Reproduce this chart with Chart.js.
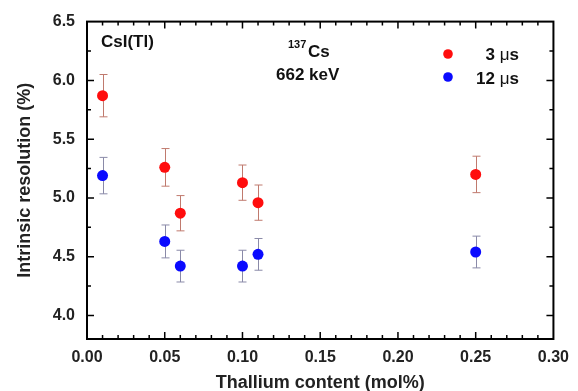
<!DOCTYPE html>
<html lang="en">
<head>
  <meta charset="UTF-8">
  <title>CsI(Tl) intrinsic resolution</title>
  <script src="https://cdn.jsdelivr.net/npm/chart.js"></script>
  <style>
    body { margin: 0; padding: 0; background: #fff; }
    #wrap { width: 578px; height: 391px; }
  </style>
</head>
<body>
  <div id="wrap"><canvas id="resChart" width="578" height="391"></canvas></div>

  <script>
    // Thallium content (mol%)
    const thallium = [0.01, 0.05, 0.06, 0.10, 0.11, 0.25];

    // Intrinsic resolution (%) at 3 us and 12 us shaping time, with errors
    const res3us = [5.87, 5.26, 4.87, 5.13, 4.96, 5.20];
    const err3us = [0.18, 0.16, 0.15, 0.15, 0.15, 0.155];
    const res12us = [5.19, 4.63, 4.42, 4.42, 4.52, 4.54];
    const err12us = [0.155, 0.14, 0.135, 0.135, 0.135, 0.135];

    const xTicks = [0.00, 0.05, 0.10, 0.15, 0.20, 0.25, 0.30];
    const yTicks = [4.0, 4.5, 5.0, 5.5, 6.0, 6.5];

    const FONT = "'Liberation Sans', Arial, sans-serif";

    const toPoints = (xs, ys, es) => xs.map((x, i) => ({ x: x, y: ys[i], err: es[i] }));

    // error bars with small caps
    const errorBars = {
      id: 'errorBars',
      beforeDatasetsDraw(chart) {
        const { ctx, scales: { x, y } } = chart;
        chart.data.datasets.forEach(ds => {
          ctx.save();
          ctx.strokeStyle = ds.errorColor;
          ctx.lineWidth = 1;
          ds.data.forEach(p => {
            const px = Math.round(x.getPixelForValue(p.x)) + 0.5;
            const top = y.getPixelForValue(p.y + p.err);
            const bot = y.getPixelForValue(p.y - p.err);
            ctx.beginPath();
            ctx.moveTo(px, top); ctx.lineTo(px, bot);
            ctx.moveTo(px - 4, top); ctx.lineTo(px + 4, top);
            ctx.moveTo(px - 4, bot); ctx.lineTo(px + 4, bot);
            ctx.stroke();
          });
          ctx.restore();
        });
      }
    };

    // box frame with inward ticks on all four sides
    const frame = {
      id: 'frame',
      afterDraw(chart) {
        const { ctx, chartArea: a, scales: { x, y } } = chart;
        ctx.save();
        ctx.strokeStyle = '#000';
        ctx.lineWidth = 1.5;
        ctx.beginPath();
        for (let v = 0.01; v < 0.3; v += 0.01) {
          const px = x.getPixelForValue(v);
          const major = Math.abs(v / 0.05 - Math.round(v / 0.05)) < 1e-6;
          const len = major ? 7 : 4;
          ctx.moveTo(px, a.bottom); ctx.lineTo(px, a.bottom - len);
          ctx.moveTo(px, a.top); ctx.lineTo(px, a.top + len);
        }
        for (let v = 4.0; v < 6.5; v += 0.25) {
          const py = y.getPixelForValue(v);
          const major = Math.abs(v / 0.5 - Math.round(v / 0.5)) < 1e-6;
          const len = major ? 7 : 4;
          ctx.moveTo(a.left, py); ctx.lineTo(a.left + len, py);
          ctx.moveTo(a.right, py); ctx.lineTo(a.right - len, py);
        }
        ctx.stroke();
        ctx.lineWidth = 2;
        ctx.strokeRect(a.left, a.top, a.right - a.left, a.bottom - a.top);
        ctx.restore();
      }
    };

    // "3 μs" style label: number and unit bold, the mu in plain weight
    function drawUnitLabel(ctx, num, right, baseline) {
      const parts = [
        [num + ' ', 'bold 17px ' + FONT],
        ['μ', '17px ' + FONT],
        ['s', 'bold 17px ' + FONT]
      ];
      let w = 0;
      parts.forEach(([t, f]) => { ctx.font = f; w += ctx.measureText(t).width; });
      let xPos = right - w;
      ctx.textAlign = 'left';
      parts.forEach(([t, f]) => {
        ctx.font = f;
        ctx.fillText(t, xPos, baseline);
        xPos += ctx.measureText(t).width;
      });
    }

    // in-plot labels and legend
    const notes = {
      id: 'notes',
      afterDraw(chart) {
        const { ctx } = chart;
        ctx.save();
        ctx.fillStyle = '#111';
        ctx.textBaseline = 'alphabetic';
        ctx.font = 'bold 17px ' + FONT;
        ctx.textAlign = 'left';
        ctx.fillText('CsI(Tl)', 101, 47);
        ctx.font = 'bold 11px ' + FONT;
        ctx.fillText('137', 288, 48);
        ctx.font = 'bold 17px ' + FONT;
        ctx.fillText('Cs', 308, 57);
        ctx.fillText('662 keV', 276, 80);

        const rows = [[54, 60], [77, 84]];
        chart.data.datasets.forEach((ds, i) => {
          const [cy, by] = rows[i];
          ctx.fillStyle = ds.backgroundColor;
          ctx.beginPath();
          ctx.arc(448, cy, 4.8, 0, Math.PI * 2);
          ctx.fill();
          ctx.fillStyle = '#111';
          drawUnitLabel(ctx, ds.shaping, 519, by);
        });
        ctx.restore();
      }
    };

    const ctx = document.getElementById('resChart').getContext('2d');
    new Chart(ctx, {
      type: 'scatter',
      data: {
        datasets: [
          {
            label: '3 μs',
            shaping: '3',
            data: toPoints(thallium, res3us, err3us),
            backgroundColor: '#ff0d0d',
            borderColor: '#ff0d0d',
            errorColor: '#c07a6e',
            pointRadius: 5.5,
            pointBorderWidth: 0
          },
          {
            label: '12 μs',
            shaping: '12',
            data: toPoints(thallium, res12us, err12us),
            backgroundColor: '#0a0aff',
            borderColor: '#0a0aff',
            errorColor: '#8a8aa8',
            pointRadius: 5.5,
            pointBorderWidth: 0
          }
        ]
      },
      options: {
        responsive: false,
        animation: false,
        layout: { padding: { top: 19, right: 19, left: 0, bottom: 0 } },
        plugins: {
          legend: { display: false },
          tooltip: { enabled: false }
        },
        scales: {
          x: {
            type: 'linear',
            min: 0, max: 0.3,
            afterFit: s => { s.height = 52; },
            afterBuildTicks: s => { s.ticks = xTicks.map(v => ({ value: v })); },
            grid: { display: false, drawTicks: false },
            border: { display: false },
            ticks: {
              padding: 9,
              color: '#222',
              font: { family: FONT, size: 16, weight: 'bold' },
              callback: v => v.toFixed(2)
            },
            title: {
              display: true,
              text: 'Thallium content (mol%)',
              color: '#222',
              padding: { top: 0, bottom: -3 },
              font: { family: FONT, size: 18, weight: 'bold' }
            }
          },
          y: {
            min: 3.8, max: 6.5,
            afterFit: s => { s.width = 87; },
            afterBuildTicks: s => { s.ticks = yTicks.map(v => ({ value: v })); },
            grid: { display: false, drawTicks: false },
            border: { display: false },
            ticks: {
              padding: 12,
              color: '#222',
              font: { family: FONT, size: 16, weight: 'bold' },
              callback: v => v.toFixed(1)
            },
            title: {
              display: true,
              text: 'Intrinsic resolution (%)',
              color: '#222',
              padding: { top: 14, bottom: 0 },
              font: { family: FONT, size: 18, weight: 'bold' }
            }
          }
        }
      },
      plugins: [errorBars, frame, notes]
    });
  </script>
</body>
</html>
